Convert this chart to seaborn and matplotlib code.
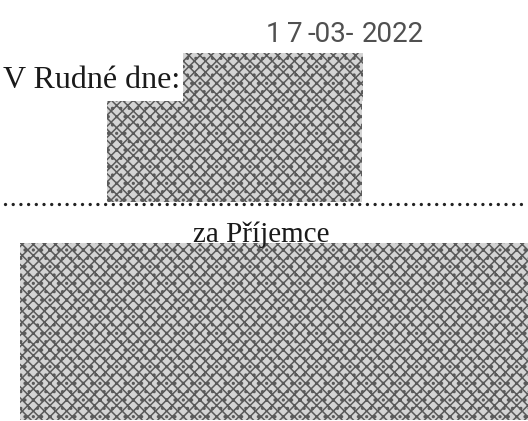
import matplotlib
matplotlib.use("Agg")
import matplotlib.pyplot as plt
import seaborn as sns

# ------------------------------
# Page content (pixel coordinates of the scanned page, 528 x 421)
# ------------------------------
stamp_parts = ["1", "7", "-03-", "2022"]
stamp_x = [266, 287, 308, 362]
stamp_y = 42

place_label = "V Rudné dne:"
signer_label = "za Příjemce"

# redacted areas: left, top, width, height
block_left = [183, 107, 20]
block_top = [53, 101, 243]
block_width = [180, 255, 508]
block_height = [48, 101, 177]

dots_x = [5, 528]
dots_y = [204, 204]

# ------------------------------
# Figure
# ------------------------------
sns.set_theme(style="white")
plt.rcParams["font.family"] = ["Liberation Serif", "DejaVu Serif"]
plt.rcParams["hatch.linewidth"] = 1.1

fig = plt.figure(figsize=(5.28, 4.21), dpi=100)
ax = fig.add_axes([0, 0, 1, 1])
ax.set_xlim(0, 528)
ax.set_ylim(421, 0)
ax.axis("off")

# date stamp
for part, x in zip(stamp_parts, stamp_x):
    ax.text(x, stamp_y, part, fontsize=20, color="#505050", ha="left", va="baseline",
            family=["Roboto", "DejaVu Sans"])

ax.text(3, 88, place_label, fontsize=23, color="#1a1a1a", ha="left", va="baseline")
ax.text(261, 242, signer_label, fontsize=21, color="#1a1a1a", ha="center", va="baseline")

# dotted signature line
sns.lineplot(x=dots_x, y=dots_y, ax=ax, color="#222222", linewidth=2.4,
             linestyle=(0, (0.01, 2.3)), dash_capstyle="round")

# redaction noise
ax.bar(block_left, block_height, width=block_width, bottom=block_top, align="edge",
       facecolor="#d4d4d4", edgecolor="#5a5a5a", linewidth=0, hatch="xxx..")

fig.savefig("out.png", dpi=100, facecolor="white")
